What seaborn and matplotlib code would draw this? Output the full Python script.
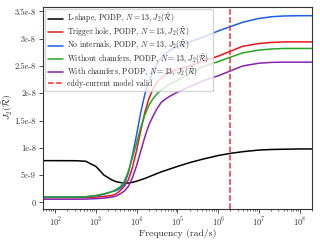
import pandas as pd
import matplotlib
matplotlib.use("Agg")
import matplotlib.pyplot as plt
from matplotlib.ticker import LogLocator
import seaborn as sns

# frequencies (rad/s) and J2 values (x1e-9)
freq = [50, 100, 316, 562, 1000, 1585,
        2512, 3162, 3981, 5012, 6310, 7943, 1.0e4, 12589, 15849, 19953, 25119,
        31623, 39811, 50119, 63096,
        1.0e5, 2.0e5, 4.0e5, 1.0e6, 2.0e6, 4.0e6, 1.0e7, 2.0e7, 4.0e7, 1.0e8, 2.0e8]
lshape = [7.66, 7.66, 7.65, 7.55, 6.6, 5.0,
          4.1, 3.8, 3.65, 3.55, 3.55, 3.7, 3.9, 4.15, 4.4, 4.7, 5.0, 5.3, 5.6, 5.85, 6.1,
          6.6, 7.3, 7.9, 8.6, 9.0, 9.3, 9.6, 9.7, 9.75, 9.8, 9.8]
trigger = [0.9, 0.9, 0.9, 0.9, 1.0, 1.1,
           1.3, 1.6, 2.2, 3.0, 4.2, 6.5, 9.6, 13.2, 16.5, 19.0, 20.8, 22.0, 22.8, 23.4, 23.8,
           24.4, 25.0, 25.8, 26.8, 27.7, 28.6, 29.1, 29.3, 29.4, 29.4, 29.4]
no_int = [1.0, 1.0, 1.0, 1.05, 1.2, 1.5,
          2.0, 2.2, 2.6, 3.4, 5.5, 8.8, 12.5, 16.5, 19.8, 22.2, 24.0, 25.4, 26.5, 27.2, 27.8,
          28.6, 29.4, 30.2, 31.4, 32.2, 33.0, 33.7, 34.0, 34.15, 34.2, 34.2]
no_chamf = [1.0, 1.0, 1.0, 1.05, 1.3, 1.6,
            2.0, 2.4, 2.9, 3.9, 5.8, 8.3, 11.0, 13.7, 16.0, 17.8, 19.0, 19.9, 20.6, 21.1, 21.6,
            22.4, 23.6, 24.8, 25.8, 26.6, 27.4, 27.9, 28.1, 28.2, 28.2, 28.2]
chamf = [0.6, 0.6, 0.6, 0.62, 0.7, 0.8,
         1.0, 1.2, 1.6, 2.1, 3.0, 4.6, 6.8, 9.4, 12.0, 14.2, 15.8, 17.2, 18.3, 18.9, 19.4,
         20.2, 21.2, 22.2, 23.2, 24.1, 25.0, 25.5, 25.65, 25.7, 25.7, 25.7]
f_valid = 2e6

xticks = [1e2, 1e3, 1e4, 1e5, 1e6, 1e7, 1e8]
yticks = [0, 5e-9, 1e-8, 1.5e-8, 2e-8, 2.5e-8, 3e-8, 3.5e-8]
ytick_labels = ["0", "5e-9", "1e-8", "1.5e-8", "2e-8", "2.5e-8", "3e-8", "3.5e-8"]

lab = r", PODP, $N=13$, $J_2(\tilde{\mathcal{R}})$"
series = [("L-shape" + lab, lshape, "black"),
          ("Trigger hole" + lab, trigger, "#e8161b"),
          ("No internals" + lab, no_int, "#1f5ee8"),
          ("Without chamfers" + lab, no_chamf, "#27a527"),
          ("With chamfers" + lab, chamf, "#8a22b0")]

sns.set_style("ticks")
plt.rcParams["font.family"] = ["cmr10", "DejaVu Serif"]
plt.rcParams["mathtext.fontset"] = "cm"
plt.rcParams["axes.unicode_minus"] = False
plt.rcParams["axes.formatter.use_mathtext"] = True

fig = plt.figure(figsize=(3.2, 2.4), dpi=100)
ax = fig.add_axes([0.134, 0.129, 0.841, 0.842])

for name, vals, col in series:
    df = pd.DataFrame({"f": freq, "J": [v * 1e-9 for v in vals]})
    sns.lineplot(data=df, x="f", y="J", ax=ax, color=col, lw=1.1, label=name)

ax.axvline(f_valid, color="#f03030", ls="--", lw=1.1, label="eddy-current model valid")

ax.set_xscale("log")
ax.set_xlim(50, 2e8)
ax.set_ylim(-1.2e-9, 3.58e-8)
ax.set_xticks(xticks)
ax.xaxis.set_minor_locator(LogLocator(base=10, subs=range(2, 10), numticks=12))
ax.set_yticks(yticks)
ax.set_yticklabels(ytick_labels)
ax.tick_params(labelsize=6, length=3, width=0.6, pad=2, colors="#333333")
ax.tick_params(which="minor", length=1.5, width=0.5)
for s in ax.spines.values():
    s.set_linewidth(0.8)
    s.set_color("#333333")

ax.set_xlabel("Frequency (rad/s)", fontsize=7, labelpad=0)
ax.set_ylabel(r"$J_2(\tilde{\mathcal{R}})$", fontsize=7)
ax.yaxis.set_label_coords(-0.104, 0.505)
ax.legend(loc="upper left", fontsize=5.6, framealpha=0.8, edgecolor="#cccccc",
          handlelength=1.9, handletextpad=0.6, borderpad=0.4, labelspacing=0.0,
          fancybox=False, borderaxespad=0.25)

fig.savefig("out.png", dpi=100)
